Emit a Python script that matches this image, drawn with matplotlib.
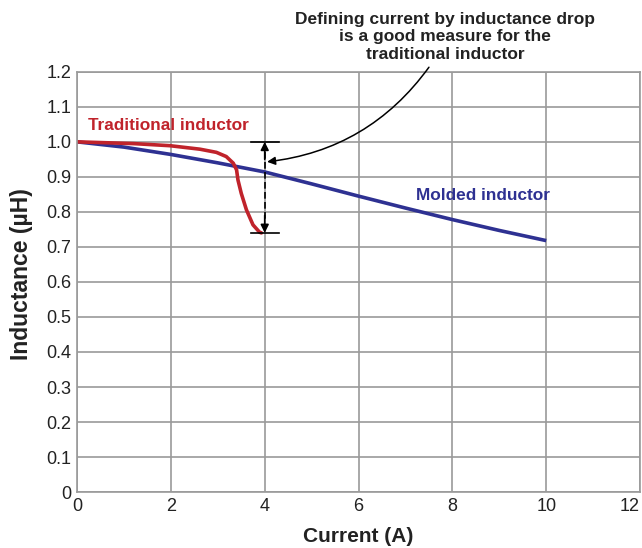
import numpy as np
import matplotlib.pyplot as plt

# Inductance vs current curves
molded_current = [0.0, 1.0, 2.0, 3.0, 4.0, 5.0, 6.0, 7.0, 8.0, 9.0, 10.0]
molded_induct = [1.0, 0.985, 0.964, 0.940, 0.914, 0.880, 0.845, 0.811, 0.778, 0.747, 0.718]

trad_current = [0.0, 1.2, 1.98, 2.62, 2.97, 3.18, 3.33, 3.40, 3.43, 3.50, 3.61, 3.75, 3.89, 3.93]
trad_induct = [1.0, 0.995, 0.989, 0.979, 0.970, 0.958, 0.939, 0.920, 0.891, 0.853, 0.806, 0.763, 0.742, 0.740]

drop_x = 4.0
drop_top = 1.0
drop_bottom = 0.74

xticks = [0, 2, 4, 6, 8, 10, 12]
yticks = [0, 0.1, 0.2, 0.3, 0.4, 0.5, 0.6, 0.7, 0.8, 0.9, 1.0, 1.1, 1.2]
ytick_labels = ['0', '0.1', '0.2', '0.3', '0.4', '0.5', '0.6', '0.7', '0.8', '0.9', '1.0', '1.1', '1.2']

RED = '#c0232b'
BLUE = '#2e3192'
GRID = '#9a9a9a'
TEXT = '#222222'

plt.rcParams['font.family'] = ['Liberation Sans', 'DejaVu Sans']

fig = plt.figure(figsize=(6.42, 5.48), dpi=100)
ax = fig.add_axes([0.12, 0.102, 0.877, 0.767])

ax.set_xlim(0, 12)
ax.set_ylim(0, 1.2)
ax.set_xticks(xticks)
ax.set_yticks(yticks)
ax.set_yticklabels(ytick_labels)
ax.tick_params(length=0, labelsize=13, colors=TEXT, pad=4)
# last x label sits right-aligned at the figure edge
ax.get_xticklabels()[-1].set_horizontalalignment('right')
ax.grid(True, color=GRID, linewidth=1.2)
ax.set_axisbelow(True)
for s in ax.spines.values():
    s.set_color(GRID)
    s.set_linewidth(1.2)

ax.plot(molded_current, molded_induct, color=BLUE, linewidth=2.6, solid_capstyle='butt')
ax.plot(trad_current, trad_induct, color=RED, linewidth=2.6, solid_capstyle='round')

# Drop marker: caps and dashed double arrow
ax.plot([drop_x - 0.3, drop_x + 0.3], [drop_top, drop_top], color='black', linewidth=1.2)
ax.plot([drop_x - 0.3, drop_x + 0.3], [drop_bottom, drop_bottom], color='black', linewidth=1.2)
ax.plot([drop_x, drop_x], [drop_top - 0.03, drop_bottom + 0.03], color='black',
        linewidth=1.2, linestyle=(0, (4, 2)))
ax.annotate('', xy=(drop_x, drop_top), xytext=(drop_x, drop_top - 0.05),
            arrowprops=dict(arrowstyle='-|>', color='black', lw=1.2, mutation_scale=12,
                            shrinkA=0, shrinkB=0))
ax.annotate('', xy=(drop_x, drop_bottom), xytext=(drop_x, drop_bottom + 0.05),
            arrowprops=dict(arrowstyle='-|>', color='black', lw=1.2, mutation_scale=12,
                            shrinkA=0, shrinkB=0))

ax.annotate('', xy=(4.05, 0.943), xytext=(7.5, 1.213), annotation_clip=False,
            arrowprops=dict(arrowstyle='-|>', color='black', lw=1.1, mutation_scale=12,
                            shrinkA=0, shrinkB=0,
                            connectionstyle='arc3,rad=-0.22'))

fig.text(0.693, 0.978, 'Defining current by inductance drop\nis a good measure for the\ntraditional inductor',
         ha='center', va='top', fontsize=12.5, fontweight='bold', color=TEXT,
         linespacing=1.2)

ax.text(0.23, 1.048, 'Traditional inductor', color=RED, fontsize=12.4, fontweight='bold',
        ha='left', va='center')
ax.text(7.23, 0.848, 'Molded inductor', color=BLUE, fontsize=12.4, fontweight='bold',
        ha='left', va='center')

ax.set_xlabel('Current (A)', fontsize=15, fontweight='bold', color=TEXT)
ax.set_ylabel('Inductance (µH)', fontsize=16.5, fontweight='bold', color=TEXT)
ax.xaxis.set_label_coords(0.5, -0.083)
ax.yaxis.set_label_coords(-0.078, 0.519)

fig.savefig('out.png', dpi=100)
